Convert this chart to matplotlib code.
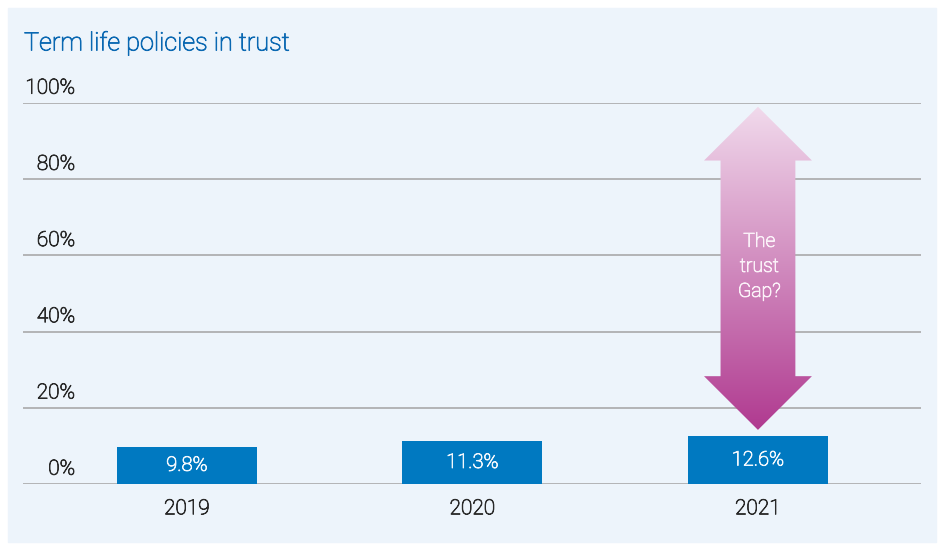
import matplotlib.pyplot as plt
import matplotlib.patheffects as pe
import numpy as np
from matplotlib.patches import Rectangle, Polygon
from matplotlib.transforms import blended_transform_factory

plt.rcParams['font.family'] = ['Roboto', 'DejaVu Sans']
plt.rcParams['font.weight'] = 'light'

years = ['2019', '2020', '2021']
in_trust = [9.8, 11.3, 12.6]
y_ticks = [0, 20, 40, 60, 80, 100]

# span of the "trust gap" arrow on the 2021 bar
gap_top = 99
gap_bottom = 14.2

bar_color = '#0079c1'
panel_color = '#edf4fb'
grid_color = '#a3a3a3'
text_color = '#2a2a2a'
title_color = '#0a68b2'


def thicken(color):
    # light face with a hairline outline, a bit heavier than plain light
    return [pe.withStroke(linewidth=0.6, foreground=color)]


fig = plt.figure(figsize=(9.4, 5.44), dpi=100)
fig.patch.set_facecolor('white')
fig.patches.append(Rectangle((8 / 940, 2 / 544), 928 / 940, 534 / 544,
                             transform=fig.transFigure, color=panel_color, zorder=-10))

ax = fig.add_axes([23 / 940, 60 / 544, 898 / 940, 381 / 544])
ax.set_facecolor('none')
ax.set_xlim(-0.574, 2.571)
ax.set_ylim(0, 100)
for s in ax.spines.values():
    s.set_visible(False)

for t in y_ticks:
    ax.axhline(t, color=grid_color, lw=1.1, zorder=1)

x = np.arange(len(years))
bars = ax.bar(x, in_trust, width=0.49, color=bar_color, zorder=2)
for xi, v in zip(x, in_trust):
    ax.text(xi, v / 2, f'{v}%', ha='center', va='center', color='#f2f7fc',
            fontsize=14.5, zorder=3, path_effects=thicken('#f2f7fc'))

ax.set_xticks(x)
ax.set_xticklabels(years, fontsize=15, color=text_color)
for lbl in ax.get_xticklabels():
    lbl.set_path_effects(thicken(text_color))
ax.tick_params(axis='x', length=0, pad=11)
ax.set_yticks([])

trans = blended_transform_factory(ax.transAxes, ax.transData)
for t in y_ticks:
    ax.text(0.058, t + 1.4, f'{t}%', transform=trans, ha='right', va='bottom',
            fontsize=15, color=text_color, path_effects=thicken(text_color))

# double-headed gradient arrow
cx = x[2]
hw_head, hw_shaft = 0.189, 0.131
head_len = 14.1
verts = [
    (cx, gap_top),
    (cx + hw_head, gap_top - head_len),
    (cx + hw_shaft, gap_top - head_len),
    (cx + hw_shaft, gap_bottom + head_len),
    (cx + hw_head, gap_bottom + head_len),
    (cx, gap_bottom),
    (cx - hw_head, gap_bottom + head_len),
    (cx - hw_shaft, gap_bottom + head_len),
    (cx - hw_shaft, gap_top - head_len),
    (cx - hw_head, gap_top - head_len),
]
arrow = Polygon(verts, closed=True, facecolor='none', edgecolor='none')
ax.add_patch(arrow)

top_rgb = np.array([241, 218, 236]) / 255
bot_rgb = np.array([176, 58, 144]) / 255
frac = np.linspace(0, 1, 256)[:, None]
grad = bot_rgb * (1 - frac) + top_rgb * frac
img = ax.imshow(grad[:, None, :], extent=[cx - hw_head, cx + hw_head, gap_bottom, gap_top],
                origin='lower', aspect='auto', zorder=4, interpolation='bilinear')
img.set_clip_path(arrow)

ax.text(cx + 0.005, 57, 'The\ntrust\nGap?', ha='center', va='center', color='#fbf1f8',
        fontsize=14, linespacing=1.5, zorder=5, path_effects=thicken('#fbf1f8'))

fig.text(24 / 940, 1 - 43 / 544, 'Term life policies in trust', ha='left', va='center',
         fontsize=18.2, color=title_color, path_effects=thicken(title_color))

fig.savefig('out.png', dpi=100, facecolor='white')
